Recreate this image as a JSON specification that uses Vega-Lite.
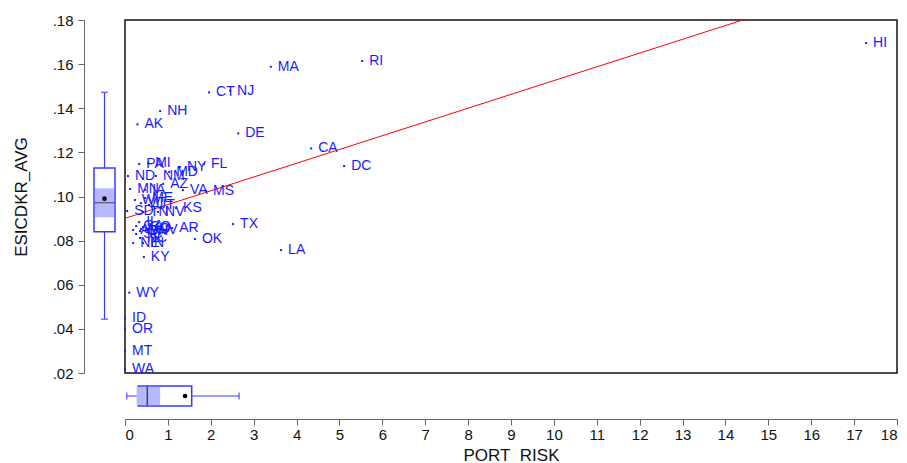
{
  "$schema": "https://vega.github.io/schema/vega-lite/v6.json",
  "padding": {"left": 12, "top": 13, "right": 0, "bottom": 0},
  "bounds": "flush",
  "spacing": 0,
  "config": {
    "view": {"stroke": null},
    "font": "Liberation Sans",
    "axis": {"grid": false, "labelFont": "Liberation Sans", "titleFont": "Liberation Sans", "labelFontSize": 15, "titleFontSize": 17, "titleFontWeight": "normal", "labelColor": "#111", "titleColor": "#111", "domainColor": "#666", "tickColor": "#666", "tickSize": 6}
  },
  "datasets": {
    "states": [
      {"st":"HI","x":17.28,"y":0.1696},
      {"st":"RI","x":5.53,"y":0.1614},
      {"st":"MA","x":3.40,"y":0.1588},
      {"st":"CT","x":1.96,"y":0.1472},
      {"st":"NJ","x":2.45,"y":0.1480},
      {"st":"NH","x":0.82,"y":0.1387},
      {"st":"AK","x":0.29,"y":0.1327},
      {"st":"DE","x":2.64,"y":0.1286},
      {"st":"CA","x":4.34,"y":0.1218},
      {"st":"DC","x":5.11,"y":0.1138},
      {"st":"WY","x":0.10,"y":0.0564},
      {"st":"ID","x":0.0,"y":0.0448},
      {"st":"OR","x":0.0,"y":0.0399},
      {"st":"MT","x":0.0,"y":0.0300},
      {"st":"WA","x":0.0,"y":0.0217},
      {"st":"PA","x":0.33,"y":0.1147},
      {"st":"MI","x":0.54,"y":0.1152},
      {"st":"NY","x":1.28,"y":0.1134},
      {"st":"FL","x":1.84,"y":0.1147},
      {"st":"ND","x":0.07,"y":0.1093},
      {"st":"NM","x":0.72,"y":0.1093},
      {"st":"MD","x":1.03,"y":0.1111},
      {"st":"MN","x":0.12,"y":0.1034},
      {"st":"AZ","x":0.89,"y":0.1057},
      {"st":"VA","x":1.35,"y":0.1029},
      {"st":"MS","x":1.89,"y":0.1025},
      {"st":"IA","x":0.47,"y":0.1030},
      {"st":"WI","x":0.23,"y":0.0984},
      {"st":"ME","x":0.47,"y":0.0993},
      {"st":"VT","x":0.37,"y":0.0970},
      {"st":"UT","x":0.56,"y":0.0962},
      {"st":"SD","x":0.05,"y":0.0934},
      {"st":"TN","x":0.42,"y":0.0930},
      {"st":"NV","x":0.77,"y":0.0930},
      {"st":"KS","x":1.19,"y":0.0948},
      {"st":"GA","x":0.26,"y":0.0866},
      {"st":"MO","x":0.37,"y":0.0853},
      {"st":"AL","x":0.19,"y":0.0848},
      {"st":"WV","x":0.54,"y":0.0848},
      {"st":"CO","x":0.42,"y":0.0862},
      {"st":"AR","x":1.10,"y":0.0857},
      {"st":"SC","x":0.26,"y":0.0830},
      {"st":"OH","x":0.35,"y":0.0843},
      {"st":"NE","x":0.19,"y":0.0789},
      {"st":"IN","x":0.42,"y":0.0789},
      {"st":"NC","x":0.35,"y":0.0812},
      {"st":"IL","x":0.33,"y":0.0884},
      {"st":"KY","x":0.44,"y":0.0726},
      {"st":"OK","x":1.63,"y":0.0807},
      {"st":"TX","x":2.52,"y":0.0875},
      {"st":"LA","x":3.64,"y":0.0757}
    ],
    "fit": [{"x":0,"y":0.0901},{"x":14.4,"y":0.18}],
    "ybox": [{"var":"ESICDKR_AVG","lo":0.0444,"q1":0.0840,"ci_lo":0.0906,"med":0.0972,"mean":0.0990,"ci_hi":0.1037,"q3":0.1129,"hi":0.1472}],
    "xbox": [{"var":"PORT_RISK","lo":0.04,"q1":0.31,"ci_lo":0.27,"med":0.52,"ci_hi":0.82,"mean":1.40,"q3":1.555,"hi":2.66}]
  },
  "hconcat": [
    {
      "width": 41,
      "height": 353,
      "data": {"name": "ybox"},
      "encoding": {
        "x": {"field": "var", "type": "nominal", "axis": null}
      },
      "layer": [
        {
          "mark": {"type": "rule", "color": "#3a3aff", "strokeWidth": 1.2},
          "encoding": {
            "y": {"field": "lo", "type": "quantitative", "title": "ESICDKR_AVG", "scale": {"domain": [0.02, 0.18], "nice": false, "zero": false}, "axis": {"values": [0.02,0.04,0.06,0.08,0.10,0.12,0.14,0.16,0.18], "labelExpr": "substring(format(datum.value, '.2f'), 1)", "labelPadding": 5, "titlePadding": 22}},
            "y2": {"field": "hi"}
          }
        },
        {
          "mark": {"type": "bar", "fill": "white", "stroke": "#3a3aff", "strokeWidth": 1.5, "size": 21},
          "encoding": {
            "y": {"field": "q1", "type": "quantitative", "title": "ESICDKR_AVG"},
            "y2": {"field": "q3"}
          }
        },
        {
          "mark": {"type": "bar", "fill": "#b8b8ff", "size": 19},
          "encoding": {
            "y": {"field": "ci_lo", "type": "quantitative", "title": "ESICDKR_AVG"},
            "y2": {"field": "ci_hi"}
          }
        },
        {
          "mark": {"type": "tick", "color": "#444", "size": 20, "thickness": 1.5},
          "encoding": {"y": {"field": "med", "type": "quantitative", "title": "ESICDKR_AVG"}}
        },
        {
          "mark": {"type": "tick", "color": "#3a3aff", "size": 7, "thickness": 1.5},
          "encoding": {"y": {"field": "lo", "type": "quantitative", "title": "ESICDKR_AVG"}}
        },
        {
          "mark": {"type": "tick", "color": "#3a3aff", "size": 7, "thickness": 1.5},
          "encoding": {"y": {"field": "hi", "type": "quantitative", "title": "ESICDKR_AVG"}}
        },
        {
          "mark": {"type": "point", "filled": true, "color": "black", "size": 22, "opacity": 1},
          "encoding": {"y": {"field": "mean", "type": "quantitative", "title": "ESICDKR_AVG"}}
        }
      ]
    },
    {
      "bounds": "flush",
      "spacing": 0,
      "vconcat": [
        {
          "width": 772,
          "height": 353,
          "view": {"stroke": "#111", "strokeWidth": 1.5},
          "layer": [
            {
              "data": {"name": "fit"},
              "mark": {"type": "line", "color": "#ff0000", "strokeWidth": 1, "clip": true},
              "encoding": {
                "x": {"field": "x", "type": "quantitative", "axis": null, "scale": {"domain": [0, 18], "nice": false, "zero": false}},
                "y": {"field": "y", "type": "quantitative", "axis": null, "scale": {"domain": [0.02, 0.18], "nice": false, "zero": false}}
              }
            },
            {
              "data": {"name": "states"},
              "mark": {"type": "point", "filled": true, "shape": "square", "color": "#1a1aff", "size": 4, "opacity": 1},
              "encoding": {
                "x": {"field": "x", "type": "quantitative"},
                "y": {"field": "y", "type": "quantitative"}
              }
            },
            {
              "data": {"name": "states"},
              "mark": {"type": "text", "color": "#1a1aff", "fontSize": 14, "font": "Liberation Sans", "align": "left", "baseline": "middle", "dx": 7},
              "encoding": {
                "x": {"field": "x", "type": "quantitative"},
                "y": {"field": "y", "type": "quantitative"},
                "text": {"field": "st"}
              }
            }
          ]
        },
        {
          "width": 772,
          "height": 46,
          "data": {"name": "xbox"},
          "encoding": {
            "y": {"field": "var", "type": "nominal", "axis": null}
          },
          "layer": [
            {
              "mark": {"type": "rule", "color": "#3a3aff", "strokeWidth": 1.2},
              "encoding": {
                "x": {"field": "lo", "type": "quantitative", "title": "PORT_RISK", "scale": {"domain": [0, 18], "nice": false, "zero": false}, "axis": {"values": [0,1,2,3,4,5,6,7,8,9,10,11,12,13,14,15,16,17,18], "labelPadding": 2, "titlePadding": 5}},
                "x2": {"field": "hi"}
              }
            },
            {
              "mark": {"type": "bar", "fill": "white", "stroke": "#3a3aff", "strokeWidth": 1.5, "size": 20},
              "encoding": {
                "x": {"field": "q1", "type": "quantitative", "title": "PORT_RISK"},
                "x2": {"field": "q3"}
              }
            },
            {
              "mark": {"type": "bar", "fill": "#b8b8ff", "size": 18},
              "encoding": {
                "x": {"field": "ci_lo", "type": "quantitative", "title": "PORT_RISK"},
                "x2": {"field": "ci_hi"}
              }
            },
            {
              "mark": {"type": "tick", "color": "#111", "size": 19, "thickness": 1.5},
              "encoding": {"x": {"field": "med", "type": "quantitative", "title": "PORT_RISK"}}
            },
            {
              "mark": {"type": "tick", "color": "#3a3aff", "size": 7, "thickness": 1.5},
              "encoding": {"x": {"field": "lo", "type": "quantitative", "title": "PORT_RISK"}}
            },
            {
              "mark": {"type": "tick", "color": "#3a3aff", "size": 7, "thickness": 1.5},
              "encoding": {"x": {"field": "hi", "type": "quantitative", "title": "PORT_RISK"}}
            },
            {
              "mark": {"type": "point", "filled": true, "color": "black", "size": 22, "opacity": 1},
              "encoding": {"x": {"field": "mean", "type": "quantitative", "title": "PORT_RISK"}}
            }
          ]
        }
      ]
    }
  ]
}
